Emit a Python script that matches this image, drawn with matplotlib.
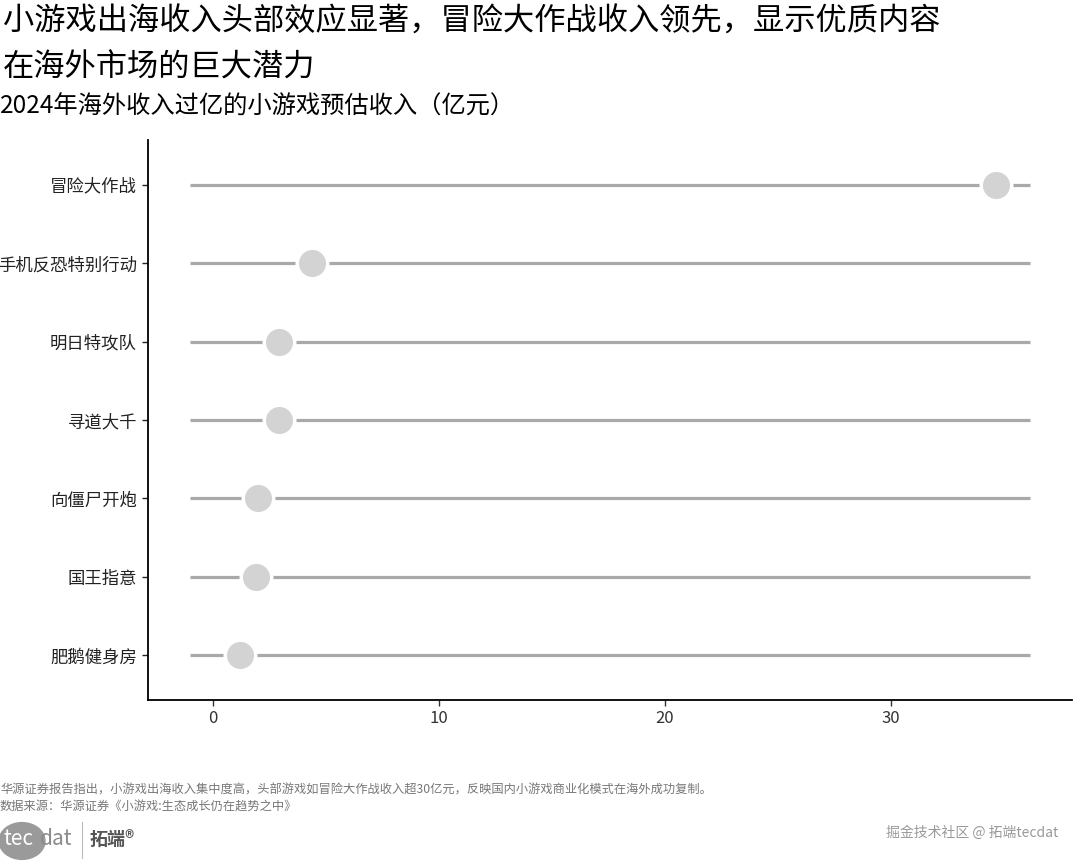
import numpy as np
import matplotlib
matplotlib.use("Agg")
import matplotlib.pyplot as plt
from matplotlib.patches import Circle

plt.rcParams['font.family'] = ['Noto Sans CJK SC', 'DejaVu Sans']

# data (top to bottom)
games = ['冒险大作战', '手机反恐特别行动', '明日特攻队', '寻道大千',
         '向僵尸开炮', '国王指意', '肥鹅健身房']
revenue = [34.65, 4.38, 2.92, 2.92, 1.99, 1.90, 1.19]
seg_start = -1.0
seg_end = 36.15
xticks = [0, 10, 20, 30]

title_1 = '小游戏出海收入头部效应显著，冒险大作战收入领先，显示优质内容'
title_2 = '在海外市场的巨大潜力'
subtitle = '2024年海外收入过亿的小游戏预估收入（亿元）'
note = '华源证券报告指出，小游戏出海收入集中度高，头部游戏如冒险大作战收入超30亿元，反映国内小游戏商业化模式在海外成功复制。'
source = '数据来源：华源证券《小游戏:生态成长仍在趋势之中》'
watermark = '掘金技术社区 @ 拓端tecdat'

W, H = 1080, 864
fig = plt.figure(figsize=(W / 100, H / 100), dpi=100)
ax = fig.add_axes([148 / W, 1 - 700 / H, 924 / W, 560 / H])

y = np.arange(len(games))[::-1] + 1
ax.hlines(y, seg_start, seg_end, color='#a9a9a9', lw=2.3, zorder=1)
ax.plot(revenue, y, 'o', color='#d3d3d3', markersize=22,
        markeredgecolor='white', markeredgewidth=2.5, zorder=2)

span = seg_end - seg_start
ax.set_xlim(seg_start - 0.05 * span, seg_end + 0.05 * span)
ax.set_ylim(0.43, len(games) + 0.57)
ax.set_yticks(y)
ax.set_yticklabels(games, fontsize=12.5)
ax.set_xticks(xticks)
ax.set_xticklabels([str(t) for t in xticks], fontsize=12, color='#333333')
ax.tick_params(axis='both', length=4, width=1, color='#333333')
ax.tick_params(axis='y', pad=4, colors='#222222')
for s in ['top', 'right']:
    ax.spines[s].set_visible(False)
for s in ['left', 'bottom']:
    ax.spines[s].set_linewidth(1.3)
    ax.spines[s].set_color('black')

fig.text(3 / W, 1 - 22 / H, title_1, fontsize=22.5, va='center', ha='left', color='black')
fig.text(3 / W, 1 - 68 / H, title_2, fontsize=22.5, va='center', ha='left', color='black')
fig.text(0.0, 1 - 107 / H, subtitle, fontsize=17.5, va='center', ha='left', color='black')

fig.text(0.0, 1 - 790 / H, note, fontsize=8.8, color='#777777', va='center', ha='left')
fig.text(0.0, 1 - 807 / H, source, fontsize=8.8, color='#777777', va='center', ha='left')

# logo
fig.patches.append(Circle((22 / W, 1 - 841 / H), 23 / W, color='#9a9a9a',
                          transform=fig.transFigure, figure=fig))
fig.text(3 / W, 1 - 839 / H, 'tec', fontsize=15, color='white', va='center', ha='left')
fig.text(40 / W, 1 - 839 / H, 'dat', fontsize=15, color='#8a8a8a', va='center', ha='left')
fig.add_artist(plt.Line2D([82 / W, 82 / W], [1 - 822 / H, 1 - 858 / H],
                          color='#bbbbbb', lw=0.8, transform=fig.transFigure))
fig.text(90 / W, 1 - 839 / H, '拓端®', fontsize=13, color='#555555',
         fontweight='bold', va='center', ha='left')

fig.text(1058 / W, 1 - 833 / H, watermark, fontsize=10, color='#999999',
         va='center', ha='right')

fig.savefig('out.png', dpi=100, facecolor='white')
